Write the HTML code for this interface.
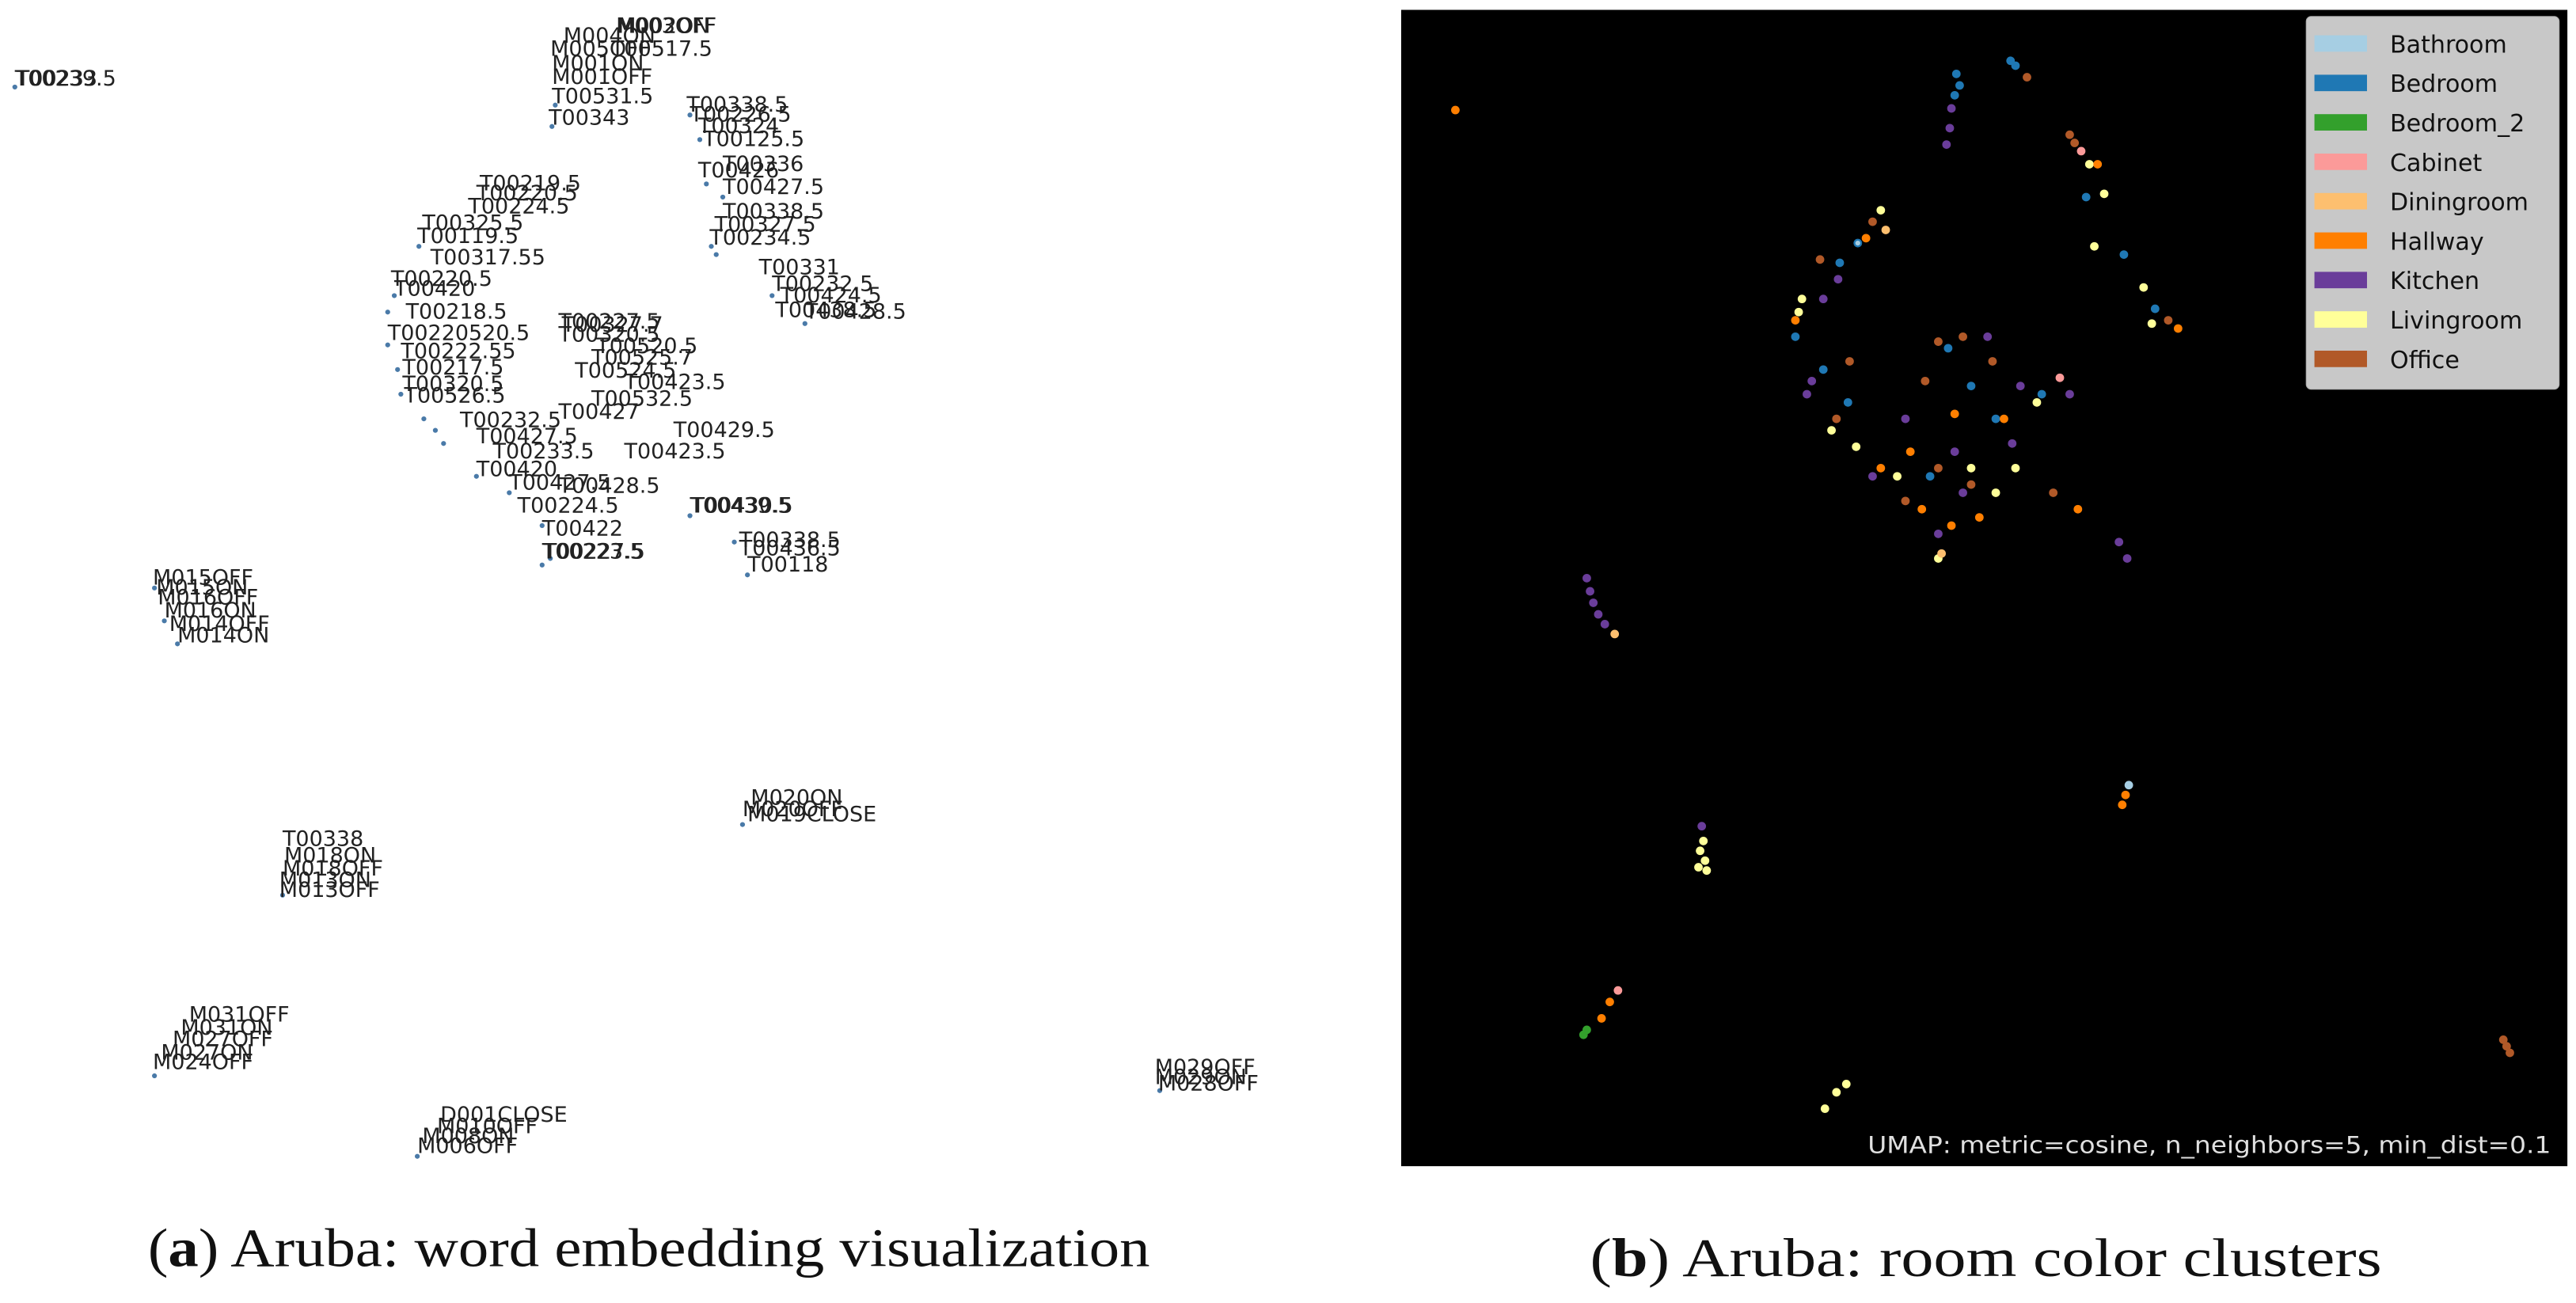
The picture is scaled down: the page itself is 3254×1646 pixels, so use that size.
<!DOCTYPE html>
<html><head><meta charset="utf-8"><style>html,body{margin:0;padding:0;background:#fff;}svg{display:block}</style></head>
<body>
<svg xmlns="http://www.w3.org/2000/svg" width="3254" height="1646" viewBox="0 0 1568.2 793.3">
<rect x="0" y="0" width="1568.2" height="793.3" fill="#fff"/>
<g font-family="'DejaVu Sans','Liberation Sans',sans-serif" font-size="13" fill="#222">
<g fill="#4a7aa8">
<circle cx="9" cy="53" r="1.5"/><circle cx="336" cy="77" r="1.5"/><circle cx="338" cy="64" r="1.5"/><circle cx="420" cy="70" r="1.5"/><circle cx="426" cy="85" r="1.5"/><circle cx="430" cy="112" r="1.5"/><circle cx="440" cy="120" r="1.5"/><circle cx="433" cy="150" r="1.5"/><circle cx="436" cy="155" r="1.5"/><circle cx="470" cy="180" r="1.5"/><circle cx="490" cy="197" r="1.5"/><circle cx="255" cy="150" r="1.5"/><circle cx="240" cy="180" r="1.5"/><circle cx="236" cy="190" r="1.5"/><circle cx="236" cy="210" r="1.5"/><circle cx="242" cy="225" r="1.5"/><circle cx="244" cy="240" r="1.5"/><circle cx="258" cy="255" r="1.5"/><circle cx="265" cy="262" r="1.5"/><circle cx="270" cy="270" r="1.5"/><circle cx="290" cy="290" r="1.5"/><circle cx="310" cy="300" r="1.5"/><circle cx="330" cy="320" r="1.5"/><circle cx="330" cy="344" r="1.5"/><circle cx="335" cy="340" r="1.5"/><circle cx="420" cy="314" r="1.5"/><circle cx="447" cy="330" r="1.5"/><circle cx="455" cy="350" r="1.5"/><circle cx="94" cy="358" r="1.5"/><circle cx="100" cy="378" r="1.5"/><circle cx="108" cy="392" r="1.5"/><circle cx="452" cy="502" r="1.5"/><circle cx="172" cy="545" r="1.5"/><circle cx="94" cy="655" r="1.5"/><circle cx="706" cy="664" r="1.5"/><circle cx="254" cy="704" r="1.5"/>
</g>
<text x="9" y="52">T00239.5</text><text x="10" y="52">T00233</text>
<text x="375" y="20">M003OFF</text><text x="376" y="20">M002ON</text><text x="343" y="26">M004ON</text><text x="335" y="34">M005OFF</text><text x="372" y="34">T00517.5</text><text x="336" y="43">M001ON</text><text x="336" y="51">M001OFF</text><text x="336" y="63">T00531.5</text><text x="334" y="76">T00343</text>
<text x="418" y="68">T00338.5</text><text x="420" y="74">T00226.5</text><text x="425" y="81">T00324</text><text x="428" y="89">T00125.5</text><text x="440" y="104">T00336</text><text x="425" y="108">T00426</text><text x="440" y="118">T00427.5</text><text x="440" y="133">T00338.5</text><text x="435" y="141">T00327.5</text><text x="432" y="149">T00234.5</text><text x="462" y="167">T00331</text><text x="470" y="177">T00232.5</text><text x="475" y="184">T00424.5</text><text x="472" y="193">T00438.5</text><text x="490" y="194">T00428.5</text>
<text x="292" y="116">T00219.5</text><text x="290" y="122">T00220.5</text><text x="285" y="130">T00224.5</text><text x="257" y="140">T00325.5</text><text x="254" y="148">T00119.5</text><text x="262" y="161">T00317.55</text><text x="238" y="174">T00220.5</text><text x="240" y="180">T00420</text><text x="247" y="194">T00218.5</text><text x="236" y="207">T00220520.5</text><text x="244" y="218">T00222.55</text><text x="245" y="228">T00217.5</text><text x="245" y="238">T00320.5</text><text x="246" y="245">T00526.5</text>
<text x="340" y="200">T00227.5</text><text x="342" y="202">T00327.7</text><text x="340" y="208">T00320.5</text><text x="363" y="215">T00520.5</text><text x="360" y="222">T00525.7</text><text x="350" y="230">T00524.5</text><text x="380" y="237">T00423.5</text><text x="360" y="247">T00532.5</text><text x="340" y="255">T00427</text><text x="410" y="266">T00429.5</text><text x="280" y="260">T00232.5</text><text x="290" y="270">T00427.5</text><text x="300" y="279">T00233.5</text><text x="380" y="279">T00423.5</text><text x="290" y="290">T00420</text><text x="310" y="298">T00427.5</text><text x="340" y="300">T00428.5</text><text x="315" y="312">T00224.5</text><text x="420" y="312">T00439.5</text><text x="421" y="312">T00430.5</text><text x="330" y="326">T00422</text><text x="330" y="340">T00223.5</text><text x="331" y="340">T00227.5</text><text x="450" y="333">T00338.5</text><text x="450" y="338">T00436.5</text><text x="455" y="348">T00118</text>
<text x="93" y="356">M015OFF</text><text x="95" y="362">M015ON</text><text x="96" y="368">M016OFF</text><text x="100" y="376">M016ON</text><text x="103" y="384">M014OFF</text><text x="108" y="391">M014ON</text>
<text x="457" y="490">M020ON</text><text x="452" y="497">M020OFF</text><text x="455" y="500">M019CLOSE</text>
<text x="172" y="515">T00338</text><text x="173" y="525">M018ON</text><text x="172" y="533">M018OFF</text><text x="170" y="540">M013ON</text><text x="170" y="546">M013OFF</text>
<text x="115" y="622">M031OFF</text><text x="110" y="630">M031ON</text><text x="105" y="637">M027OFF</text><text x="98" y="645">M027ON</text><text x="93" y="651">M024OFF</text>
<text x="703" y="654">M029OFF</text><text x="703" y="660">M029ON</text><text x="705" y="664">M028OFF</text>
<text x="268" y="683">D001CLOSE</text><text x="266" y="690">M010OFF</text><text x="257" y="696">M008ON</text><text x="254" y="702">M006OFF</text>
</g>
<rect x="853" y="6" width="710" height="704" fill="#000"/>
<g>
<circle cx="886" cy="67" r="2.6" fill="#ff7f00"/>
<g fill="#1f78b4"><circle cx="1191" cy="45" r="2.6"/><circle cx="1193" cy="52" r="2.6"/><circle cx="1190" cy="58" r="2.6"/><circle cx="1224" cy="37" r="2.6"/><circle cx="1227" cy="40" r="2.6"/><circle cx="1270" cy="120" r="2.6"/><circle cx="1293" cy="155" r="2.6"/><circle cx="1120" cy="160" r="2.6"/><circle cx="1131" cy="148" r="2.6"/><circle cx="1093" cy="205" r="2.6"/><circle cx="1110" cy="225" r="2.6"/><circle cx="1125" cy="245" r="2.6"/><circle cx="1200" cy="235" r="2.6"/><circle cx="1243" cy="240" r="2.6"/><circle cx="1175" cy="290" r="2.6"/><circle cx="1215" cy="255" r="2.6"/><circle cx="1186" cy="212" r="2.6"/><circle cx="1312" cy="188" r="2.6"/></g>
<g fill="#6a3d9a"><circle cx="1188" cy="66" r="2.6"/><circle cx="1187" cy="78" r="2.6"/><circle cx="1185" cy="88" r="2.6"/><circle cx="1100" cy="240" r="2.6"/><circle cx="1103" cy="232" r="2.6"/><circle cx="1140" cy="290" r="2.6"/><circle cx="1160" cy="255" r="2.6"/><circle cx="1190" cy="275" r="2.6"/><circle cx="1225" cy="270" r="2.6"/><circle cx="1260" cy="240" r="2.6"/><circle cx="1210" cy="205" r="2.6"/><circle cx="1230" cy="235" r="2.6"/><circle cx="1195" cy="300" r="2.6"/><circle cx="1290" cy="330" r="2.6"/><circle cx="1295" cy="340" r="2.6"/><circle cx="966" cy="352" r="2.6"/><circle cx="968" cy="360" r="2.6"/><circle cx="970" cy="367" r="2.6"/><circle cx="973" cy="374" r="2.6"/><circle cx="977" cy="380" r="2.6"/><circle cx="1036" cy="503" r="2.6"/><circle cx="1119" cy="170" r="2.6"/><circle cx="1110" cy="182" r="2.6"/><circle cx="1180" cy="325" r="2.6"/></g>
<g fill="#b15928"><circle cx="1234" cy="47" r="2.6"/><circle cx="1260" cy="82" r="2.6"/><circle cx="1263" cy="87" r="2.6"/><circle cx="1108" cy="158" r="2.6"/><circle cx="1140" cy="135" r="2.6"/><circle cx="1180" cy="208" r="2.6"/><circle cx="1195" cy="205" r="2.6"/><circle cx="1213" cy="220" r="2.6"/><circle cx="1172" cy="232" r="2.6"/><circle cx="1180" cy="285" r="2.6"/><circle cx="1200" cy="295" r="2.6"/><circle cx="1250" cy="300" r="2.6"/><circle cx="1160" cy="305" r="2.6"/><circle cx="1320" cy="195" r="2.6"/><circle cx="1524" cy="633" r="2.6"/><circle cx="1526" cy="637" r="2.6"/><circle cx="1528" cy="641" r="2.6"/><circle cx="1118" cy="255" r="2.6"/><circle cx="1126" cy="220" r="2.6"/></g>
<g fill="#ffff99"><circle cx="1145" cy="128" r="2.6"/><circle cx="1272" cy="100" r="2.6"/><circle cx="1281" cy="118" r="2.6"/><circle cx="1275" cy="150" r="2.6"/><circle cx="1305" cy="175" r="2.6"/><circle cx="1310" cy="197" r="2.6"/><circle cx="1097" cy="182" r="2.6"/><circle cx="1095" cy="190" r="2.6"/><circle cx="1115" cy="262" r="2.6"/><circle cx="1130" cy="272" r="2.6"/><circle cx="1155" cy="290" r="2.6"/><circle cx="1200" cy="285" r="2.6"/><circle cx="1215" cy="300" r="2.6"/><circle cx="1240" cy="245" r="2.6"/><circle cx="1227" cy="285" r="2.6"/><circle cx="1037" cy="512" r="2.6"/><circle cx="1035" cy="518" r="2.6"/><circle cx="1038" cy="524" r="2.6"/><circle cx="1034" cy="528" r="2.6"/><circle cx="1039" cy="530" r="2.6"/><circle cx="1124" cy="660" r="2.6"/><circle cx="1118" cy="665" r="2.6"/><circle cx="1111" cy="675" r="2.6"/><circle cx="1180" cy="340" r="2.6"/></g>
<g fill="#ff7f00"><circle cx="1277" cy="100" r="2.6"/><circle cx="1326" cy="200" r="2.6"/><circle cx="1136" cy="145" r="2.6"/><circle cx="1093" cy="195" r="2.6"/><circle cx="1163" cy="275" r="2.6"/><circle cx="1145" cy="285" r="2.6"/><circle cx="1190" cy="252" r="2.6"/><circle cx="1220" cy="255" r="2.6"/><circle cx="1205" cy="315" r="2.6"/><circle cx="1265" cy="310" r="2.6"/><circle cx="1188" cy="320" r="2.6"/><circle cx="1292" cy="490" r="2.6"/><circle cx="1294" cy="484" r="2.6"/><circle cx="980" cy="610" r="2.6"/><circle cx="975" cy="620" r="2.6"/><circle cx="1170" cy="310" r="2.6"/></g>
<g fill="#fdbf6f"><circle cx="983" cy="386" r="2.6"/><circle cx="1148" cy="140" r="2.6"/><circle cx="1182" cy="337" r="2.6"/></g>
<g fill="#a6cee3"><circle cx="1296" cy="478" r="2.6"/><circle cx="1131" cy="148" r="1.5"/></g>
<g fill="#fb9a99"><circle cx="1267" cy="92" r="2.6"/><circle cx="985" cy="603" r="2.6"/><circle cx="1254" cy="230" r="2.6"/></g>
<circle cx="964" cy="630" r="2.6" fill="#33a02c"/><circle cx="966" cy="627" r="2.6" fill="#33a02c"/>
</g>
<rect x="1404" y="10" width="154" height="227" rx="3" fill="#c8c8c8" stroke="#aaa" stroke-width="0.5"/>
<g font-family="'DejaVu Sans','Liberation Sans',sans-serif" font-size="14.5" fill="#111">
<rect x="1409" y="21.5" width="32" height="10" fill="#a6cee3"/><text x="1428" y="32" dx="27">Bathroom</text>
<rect x="1409" y="45.5" width="32" height="10" fill="#1f78b4"/><text x="1455" y="56">Bedroom</text>
<rect x="1409" y="69.5" width="32" height="10" fill="#33a02c"/><text x="1455" y="80">Bedroom_2</text>
<rect x="1409" y="93.5" width="32" height="10" fill="#fb9a99"/><text x="1455" y="104">Cabinet</text>
<rect x="1409" y="117.5" width="32" height="10" fill="#fdbf6f"/><text x="1455" y="128">Diningroom</text>
<rect x="1409" y="141.5" width="32" height="10" fill="#ff7f00"/><text x="1455" y="152">Hallway</text>
<rect x="1409" y="165.5" width="32" height="10" fill="#6a3d9a"/><text x="1455" y="176">Kitchen</text>
<rect x="1409" y="189.5" width="32" height="10" fill="#ffff99"/><text x="1455" y="200">Livingroom</text>
<rect x="1409" y="213.5" width="32" height="10" fill="#b15928"/><text x="1455" y="224">Office</text>
</g>
<text x="1137" y="702" font-family="'DejaVu Sans','Liberation Sans',sans-serif" font-size="14" fill="#e0e0e0" textLength="416" lengthAdjust="spacingAndGlyphs">UMAP: metric=cosine, n_neighbors=5, min_dist=0.1</text>
<g font-family="'Liberation Serif',serif" font-size="33" fill="#111">
<text x="90" y="771" textLength="610" lengthAdjust="spacingAndGlyphs">(<tspan font-weight="bold">a</tspan>) Aruba: word embedding visualization</text>
<text x="968" y="777" textLength="482" lengthAdjust="spacingAndGlyphs">(<tspan font-weight="bold">b</tspan>) Aruba: room color clusters</text>
</g>
</svg>
</body></html>
